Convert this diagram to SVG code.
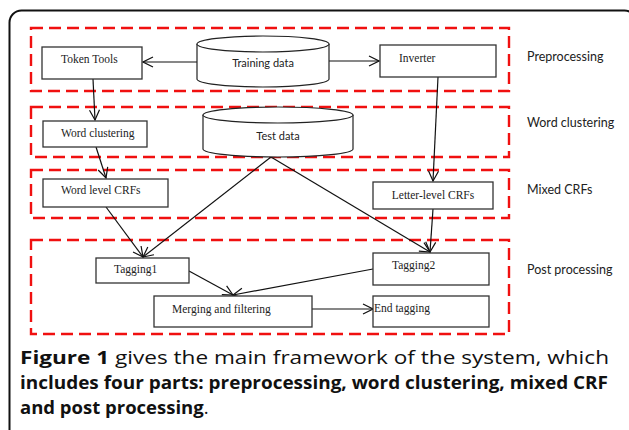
<svg xmlns="http://www.w3.org/2000/svg" width="629" height="430" viewBox="0 0 629 430">
  <defs>
    <marker id="arrow" viewBox="0 0 12 12" refX="11" refY="6" markerWidth="12" markerHeight="12" markerUnits="userSpaceOnUse" orient="auto">
      <path d="M1,1 L11,6 L1,11" fill="none" stroke="#111" stroke-width="1.2"/>
    </marker>
  </defs>
  <style>
    .frame { fill: none; stroke: #111; stroke-width: 2; }
    .stage { fill: none; stroke: #f01010; stroke-width: 2.4; stroke-dasharray: 12 6; }
    .box { fill: #fff; stroke: #333; stroke-width: 1.3; }
    .db { fill: #fff; stroke: #222; stroke-width: 1.2; }
    .edge { fill: none; stroke: #111; stroke-width: 1.2; marker-end: url(#arrow); }
    .serif { font-family: "Liberation Serif", "Times New Roman", serif; font-size: 11.5px; fill: #222; }
    .dbtext { font-family: "Lato", "Open Sans", sans-serif; font-size: 11px; fill: #222; }
    .stagelabel { font-family: "Lato", "Open Sans", sans-serif; font-size: 12.5px; fill: #222; }
    .caption { font-family: "Open Sans", "Liberation Sans", sans-serif; font-size: 18.5px; fill: #111; }
  </style>

  <!-- outer frame, open at the bottom edge -->
  <rect class="frame" x="9.5" y="10.5" width="627" height="440" rx="12" ry="12"/>

  <!-- stage boxes -->
  <g id="stages">
    <rect class="stage" x="31" y="28" width="478" height="63"/>
    <rect class="stage" x="31" y="107" width="478" height="50"/>
    <rect class="stage" x="31" y="170" width="478" height="48"/>
    <rect class="stage" x="31" y="240" width="478" height="94"/>
  </g>

  <!-- stage labels -->
  <g id="stage-labels">
    <text class="stagelabel" x="527" y="61">Preprocessing</text>
    <text class="stagelabel" x="527" y="127">Word clustering</text>
    <text class="stagelabel" x="527" y="194">Mixed CRFs</text>
    <text class="stagelabel" x="527" y="274">Post processing</text>
  </g>

  <!-- connectors -->
  <g id="connectors">
    <line class="edge" x1="197" y1="62" x2="143" y2="62"/>
    <line class="edge" x1="329" y1="61" x2="379" y2="61"/>
    <line class="edge" x1="93" y1="79" x2="95" y2="120"/>
    <line class="edge" x1="96" y1="147" x2="106" y2="178"/>
    <line class="edge" x1="438" y1="77" x2="433" y2="181"/>
    <line class="edge" x1="106" y1="207" x2="143" y2="257"/>
    <line class="edge" x1="271" y1="157" x2="143" y2="257"/>
    <line class="edge" x1="271" y1="157" x2="430" y2="252"/>
    <line class="edge" x1="433" y1="209" x2="430" y2="252"/>
    <line class="edge" x1="189" y1="271" x2="233" y2="295"/>
    <line class="edge" x1="373" y1="269" x2="233" y2="295"/>
    <line class="edge" x1="312" y1="309" x2="373" y2="309"/>
  </g>

  <!-- nodes -->
  <g id="training-data">
    <path class="db" d="M197,44 A66,8 0 0 1 329,44 L329,79 A66,8 0 0 1 197,79 Z"/>
    <path class="db" d="M197,44 A66,8 0 0 0 329,44"/>
    <text class="dbtext" x="263" y="67" text-anchor="middle">Training data</text>
  </g>

  <g id="test-data">
    <path class="db" d="M203,115 A75,8 0 0 1 353,115 L353,149 A75,8 0 0 1 203,149 Z"/>
    <path class="db" d="M203,115 A75,8 0 0 0 353,115"/>
    <text class="dbtext" x="278" y="140" text-anchor="middle">Test data</text>
  </g>

  <g id="token-tools">
    <rect class="box" x="42" y="47" width="100" height="32"/>
    <text class="serif" x="61" y="63">Token Tools</text>
  </g>

  <g id="inverter">
    <rect class="box" x="380" y="45" width="116" height="32"/>
    <text class="serif" x="399" y="62">Inverter</text>
  </g>

  <g id="word-clustering">
    <rect class="box" x="43" y="121" width="104" height="26"/>
    <text class="serif" x="61" y="137">Word clustering</text>
  </g>

  <g id="word-level-crfs">
    <rect class="box" x="43" y="179" width="125" height="28"/>
    <text class="serif" x="61" y="194">Word level CRFs</text>
  </g>

  <g id="letter-level-crfs">
    <rect class="box" x="373" y="182" width="120" height="27"/>
    <text class="serif" x="433" y="199" text-anchor="middle">Letter-level CRFs</text>
  </g>

  <g id="tagging1">
    <rect class="box" x="96" y="258" width="93" height="25"/>
    <text class="serif" x="114" y="273">Tagging1</text>
  </g>

  <g id="tagging2">
    <rect class="box" x="373" y="253" width="116" height="32"/>
    <text class="serif" x="392" y="269">Tagging2</text>
  </g>

  <g id="merging-and-filtering">
    <rect class="box" x="154" y="296" width="158" height="31"/>
    <text class="serif" x="172" y="313">Merging and filtering</text>
  </g>

  <g id="end-tagging">
    <rect class="box" x="373" y="296" width="116" height="31"/>
    <text class="serif" x="374" y="312">End tagging</text>
  </g>

  <!-- caption -->
  <g id="caption">
    <text class="caption" x="20" y="364" textLength="589" lengthAdjust="spacingAndGlyphs"><tspan font-weight="bold">Figure 1</tspan> gives the main framework of the system, which</text>
    <text class="caption" x="20" y="389" textLength="588" lengthAdjust="spacingAndGlyphs" font-weight="bold">includes four parts: preprocessing, word clustering, mixed CRF</text>
    <text class="caption" x="20" y="414" font-weight="bold">and post processing<tspan font-weight="normal">.</tspan></text>
  </g>
</svg>
